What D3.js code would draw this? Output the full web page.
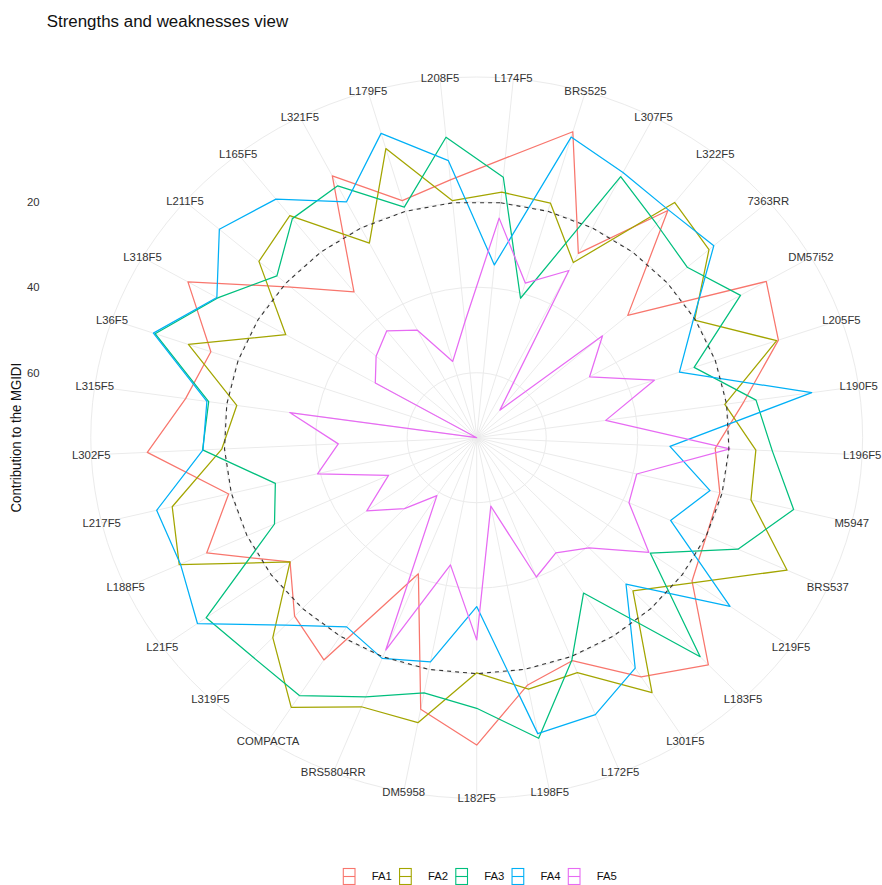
<!DOCTYPE html>
<html>
<head>
<meta charset="utf-8">
<script src="https://cdn.jsdelivr.net/npm/d3@7"></script>
<style>
  html, body { margin: 0; padding: 0; background: #ffffff; }
  svg { display: block; font-family: "Liberation Sans", Arial, sans-serif; }
</style>
</head>
<body>
<div id="chart"></div>
<script>
// Genotypes, in the clockwise order they are drawn around the radar
const genotypes = [
  "L174F5", "BRS525", "L307F5", "L322F5", "7363RR", "DM57i52", "L205F5", "L190F5",
  "L196F5", "M5947", "BRS537", "L219F5", "L183F5", "L301F5", "L172F5", "L198F5",
  "L182F5", "DM5958", "BRS5804RR", "COMPACTA", "L319F5", "L21F5", "L188F5", "L217F5",
  "L302F5", "L315F5", "L36F5", "L318F5", "L211F5", "L165F5", "L321F5", "L179F5", "L208F5"
];

const factors = ["FA1", "FA2", "FA3", "FA4", "FA5"];

// Contribution (%) of each factor to the MGIDI of each genotype
const fa1 = [9.5, 0.6, 26.7, 7.6, 31.5, 2.1, 5.4, 16.2, 23.0, 20.5, 20.0, 17.4, 1.8, 8.7, 19.0, 16.3,
             3.3, 10.5, 40.9, 13.4, 17.5, 25.1, 10.3, 19.4, 3.1, 10.9, 13.7, 2.3, 21.4, 31.8, 6.3, 17.4, 14.6];
const fa2 = [17.5, 18.0, 29.1, 5.2, 8.0, 20.2, 5.8, 20.4, 14.1, 13.5, 0.6, 16.8, 25.7, 4.3, 16.0, 15.3,
             20.2, 7.3, 7.4, 0.2, 10.6, 25.1, 3.7, 6.7, 19.4, 22.2, 8.5, 27.0, 12.2, 9.1, 24.0, 4.7, 19.5];
const fa3 = [14.0, 41.2, 6.5, 11.6, 14.3, 8.6, 24.9, 13.5, 10.5, 3.9, 12.4, 28.6, 4.4, 32.0, 19.2, 3.6,
             11.9, 14.4, 9.9, 3.5, 4.3, 2.6, 26.6, 29.9, 15.2, 16.0, 0.8, 9.8, 17.4, 10.0, 8.9, 19.0, 4.6];
const fa4 = [34.6, 1.9, 5.4, 7.4, 6.6, 20.6, 28.3, 1.2, 32.9, 22.7, 28.6, 7.2, 27.9, 11.1, 5.4, 4.7,
             35.7, 21.8, 19.6, 22.6, 14.6, 0.25, 4.0, 3.2, 15.3, 15.6, 0.4, 9.6, 0.75, 4.2, 13.1, 1.0, 10.1];
const fa5 = [23.6, 37.5, 31.2, 67.0, 38.8, 46.7, 34.1, 46.7, 19.8, 39.2, 38.6, 29.0, 39.6, 43.2, 40.1, 58.9,
             27.9, 44.9, 21.7, 59.1, 52.3, 45.7, 54.0, 39.4, 44.9, 33.9, 75.2, 49.6, 46.1, 43.4, 46.9, 56.6, 48.0];

const seriesValues = [fa1, fa2, fa3, fa4, fa5];
const colors = ["#F8766D", "#A3A500", "#00BF7D", "#00B0F6", "#E76BF3"];

// Radial axis breaks and the equal-contribution reference (100 / number of factors)
const rTicks = [20, 40, 60];
const reference = 20;

const title = "Strengths and weaknesses view";
const yTitle = "Contribution to the MGIDI";

// ---- layout ----
const W = 882, H = 885;
const cx = 476.7, cy = 437.7;   // centre of the polar panel
const sx = 1.07;                // horizontal stretch of the panel
const R0 = 320.6;               // radius of the data range (0.4 of the panel)
const RL = R0 * 0.45 / 0.4;     // radius of the genotype labels / outer ring
const textStretch = `scale(${sx},1)`;

const svg = d3.select("#chart").append("svg")
  .attr("width", W).attr("height", H)
  .attr("viewBox", `0 0 ${W} ${H}`);

// angle scale: discrete genotypes spread over the full circle
const theta = d3.scaleBand().domain(genotypes).range([0, 2 * Math.PI]);
const angle = g => theta(g) + theta.bandwidth() / 2;

// reversed radial scale: the smaller the contribution, the farther from the centre
const allVals = seriesValues.flat().concat([reference]);
const r = d3.scaleLinear()
  .domain([d3.max(allVals), d3.min(allVals)])
  .range([0, R0]);

const px = (a, rad) => cx + sx * rad * Math.sin(a);
const py = (a, rad) => cy - rad * Math.cos(a);

// ---- background grid ----
const grid = svg.append("g").attr("fill", "none").attr("stroke", "#EBEBEB").attr("stroke-width", 1);

grid.selectAll("line.spoke").data(genotypes).enter().append("line")
  .attr("x1", cx).attr("y1", cy)
  .attr("x2", g => px(angle(g), RL))
  .attr("y2", g => py(angle(g), RL));

grid.selectAll("ellipse.ring").data(rTicks.map(t => r(t)).concat([RL])).enter().append("ellipse")
  .attr("cx", cx).attr("cy", cy)
  .attr("rx", d => sx * d).attr("ry", d => d);

// ---- series polygons ----
const radarLine = d3.line()
  .x(d => px(angle(d.g), r(d.v)))
  .y(d => py(angle(d.g), r(d.v)))
  .curve(d3.curveLinearClosed);

const plot = svg.append("g").attr("fill", "none");

seriesValues.forEach((vals, k) => {
  plot.append("path")
    .datum(genotypes.map((g, i) => ({ g, v: vals[i] })))
    .attr("d", radarLine)
    .attr("stroke", colors[k])
    .attr("stroke-width", 1.25)
    .attr("stroke-linejoin", "round");
});

// dashed reference at equal contribution
plot.append("path")
  .datum(genotypes.map(g => ({ g, v: reference })))
  .attr("d", radarLine)
  .attr("stroke", "#333333")
  .attr("stroke-width", 1.1)
  .attr("stroke-dasharray", "4,4");

// ---- genotype labels ----
const labFs = 10.6;
svg.append("g").selectAll("text").data(genotypes).enter().append("text")
  .attr("transform", g => `translate(${px(angle(g), RL)},${py(angle(g), RL) + 0.36 * labFs}) ${textStretch}`)
  .attr("text-anchor", "middle")
  .attr("font-size", labFs)
  .attr("fill", "#333333")
  .text(g => g);

// ---- radial axis (left side) ----
svg.append("g").selectAll("text").data(rTicks).enter().append("text")
  .attr("transform", t => `translate(39.5,${cy - r(t) + 0.36 * labFs}) ${textStretch}`)
  .attr("text-anchor", "end")
  .attr("font-size", labFs)
  .attr("fill", "#333333")
  .text(t => t);

svg.append("text")
  .attr("transform", `translate(21,${cy}) ${textStretch} rotate(-90)`)
  .attr("text-anchor", "middle")
  .attr("font-size", 13.2)
  .attr("fill", "#111")
  .text(yTitle);

// ---- title ----
svg.append("text")
  .attr("transform", `translate(46.7,27.3) ${textStretch}`)
  .attr("font-size", 15.8)
  .attr("fill", "#111")
  .text(title);

// ---- legend ----
const legend = svg.append("g");
const legX0 = 343.3, legStep = 56.25, keyW = 11.7, keyTop = 868.5, keyH = 16;
factors.forEach((f, k) => {
  const gx = legX0 + k * legStep;
  const item = legend.append("g");
  item.append("rect")
    .attr("x", gx).attr("y", keyTop).attr("width", keyW).attr("height", keyH)
    .attr("fill", "none").attr("stroke", colors[k]).attr("stroke-width", 1.1);
  item.append("line")
    .attr("x1", gx).attr("x2", gx + keyW)
    .attr("y1", keyTop + keyH / 2).attr("y2", keyTop + keyH / 2)
    .attr("stroke", colors[k]).attr("stroke-width", 1.1);
  item.append("text")
    .attr("transform", `translate(${gx + 28.4},${keyTop + keyH / 2 + 0.36 * labFs}) ${textStretch}`)
    .attr("font-size", labFs)
    .attr("fill", "#111")
    .text(f);
});
</script>
</body>
</html>
